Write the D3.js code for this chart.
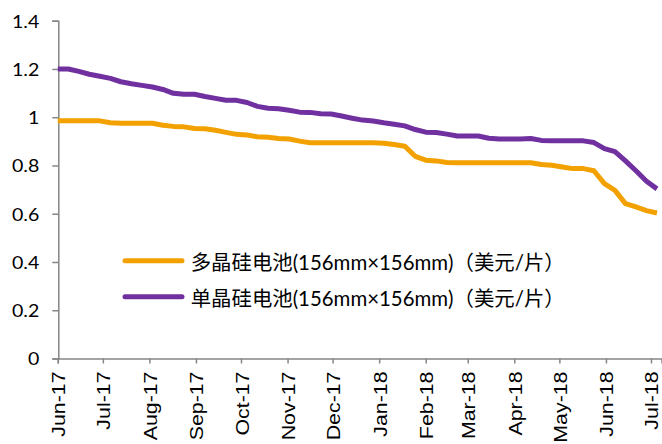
<!DOCTYPE html>
<html>
<head>
<meta charset="utf-8">
<script src="https://cdn.jsdelivr.net/npm/d3@7"></script>
<style>
  body { margin: 0; background: #fff; }
  svg { display: block; }
</style>
</head>
<body>
<svg width="662" height="444"></svg>
<script>
// weekly quotes, USD per piece
var dates = ["2017-06-01","2017-06-08","2017-06-15","2017-06-22","2017-06-29","2017-07-06","2017-07-13","2017-07-20","2017-07-27",
  "2017-08-03","2017-08-10","2017-08-17","2017-08-24","2017-08-31","2017-09-07","2017-09-14","2017-09-21","2017-09-28",
  "2017-10-05","2017-10-12","2017-10-19","2017-10-26","2017-11-02","2017-11-09","2017-11-16","2017-11-23","2017-11-30",
  "2017-12-07","2017-12-14","2017-12-21","2017-12-28","2018-01-04","2018-01-11","2018-01-18","2018-01-25","2018-02-01",
  "2018-02-08","2018-02-15","2018-02-22","2018-03-01","2018-03-08","2018-03-15","2018-03-22","2018-03-29","2018-04-05",
  "2018-04-12","2018-04-19","2018-04-26","2018-05-03","2018-05-10","2018-05-17","2018-05-24","2018-05-31","2018-06-07",
  "2018-06-14","2018-06-21","2018-06-28","2018-07-05"];

var polyPrice = [0.985,0.985,0.985,0.985,0.985,0.977,0.975,0.975,0.975,0.975,
  0.967,0.962,0.960,0.953,0.952,0.946,0.937,0.929,0.926,0.919,
  0.917,0.912,0.910,0.901,0.894,0.894,0.894,0.894,0.894,0.894,
  0.894,0.892,0.887,0.880,0.838,0.822,0.819,0.812,0.811,0.811,
  0.811,0.811,0.811,0.811,0.811,0.811,0.804,0.801,0.794,0.787,
  0.787,0.778,0.725,0.697,0.642,0.628,0.613,0.603];

var monoPrice = [1.200,1.200,1.190,1.178,1.170,1.161,1.147,1.139,1.132,1.125,
  1.115,1.099,1.095,1.095,1.086,1.078,1.070,1.070,1.061,1.045,
  1.037,1.035,1.029,1.021,1.020,1.014,1.013,1.005,0.996,0.988,
  0.984,0.977,0.971,0.964,0.949,0.938,0.937,0.930,0.922,0.922,
  0.922,0.913,0.910,0.910,0.910,0.912,0.904,0.902,0.902,0.902,
  0.902,0.895,0.870,0.857,0.819,0.778,0.735,0.703];

var seriesNames = ["多晶硅电池(156mm×156mm)（美元/片）", "单晶硅电池(156mm×156mm)（美元/片）"];
var seriesColors = ["#f2a100", "#7030a0"];
var yTicks = [0, 0.2, 0.4, 0.6, 0.8, 1, 1.2, 1.4];

var parse = d3.timeParse("%Y-%m-%d");
var days = dates.map(parse);

var svg = d3.select("svg");
var axisColor = "#868686";

var x = d3.scaleTime().domain([parse("2017-06-01"), parse("2018-07-08")]).range([57.8, 661.5]);
var y = d3.scaleLinear().domain([0, 1.4]).range([358.5, 20.7]);

// y axis
var yAxis = svg.append("g")
    .attr("transform", "translate(58.3,0)")
    .call(d3.axisLeft(y).tickValues(yTicks).tickSize(6).tickPadding(0).tickFormat(d3.format("")));
yAxis.select(".domain").attr("stroke", axisColor).attr("stroke-width", 1.5);
yAxis.selectAll(".tick line").attr("stroke", axisColor).attr("stroke-width", 1.5);
yAxis.selectAll(".tick text")
    .attr("x", null).attr("dy", null)
    .attr("transform", "translate(-19,6.3) scale(1.12,1)")
    .attr("fill", "#000")
    .style("font-family", "Lato, 'Open Sans', sans-serif")
    .style("font-size", "17.5px");

// x axis
var xAxis = svg.append("g")
    .attr("transform", "translate(0,358.5)")
    .call(d3.axisBottom(x).ticks(d3.timeMonth.every(1)).tickSize(5).tickFormat(d3.timeFormat("%b-%y")));
xAxis.select(".domain").attr("stroke", axisColor).attr("stroke-width", 1.5);
xAxis.selectAll(".tick line").attr("stroke", axisColor).attr("stroke-width", 1.5);
xAxis.selectAll(".tick text")
    .attr("y", null).attr("dy", null)
    .attr("text-anchor", "end")
    .attr("transform", "translate(7,13) rotate(-90) scale(1.22,1)")
    .attr("fill", "#000")
    .style("font-family", "'Liberation Sans', Arial, sans-serif")
    .style("font-size", "17.5px");

// lines
var line = d3.line()
    .x(function(d) { return x(d.date); })
    .y(function(d) { return y(d.value); });

[polyPrice, monoPrice].forEach(function(vals, i) {
    var pts = vals.map(function(v, j) { return { date: days[j], value: v }; });
    svg.append("path")
        .datum(pts)
        .attr("d", line)
        .attr("fill", "none")
        .attr("stroke", seriesColors[i])
        .attr("stroke-width", 5)
        .attr("stroke-linejoin", "round");
});

// legend
var legend = svg.append("g");
seriesNames.forEach(function(name, i) {
    var ly = 260.7 + i * 36;
    legend.append("line")
        .attr("x1", 125).attr("x2", 182)
        .attr("y1", ly).attr("y2", ly)
        .attr("stroke", seriesColors[i])
        .attr("stroke-width", 5)
        .attr("stroke-linecap", "round");
    legend.append("text")
        .attr("x", 190.7).attr("y", ly + 8.8)
        .attr("textLength", 374)
        .attr("lengthAdjust", "spacingAndGlyphs")
        .style("font-family", "Lato, 'Noto Sans CJK SC', sans-serif")
        .style("font-size", "20.5px")
        .attr("fill", "#000")
        .text(name);
});
</script>
</body>
</html>
